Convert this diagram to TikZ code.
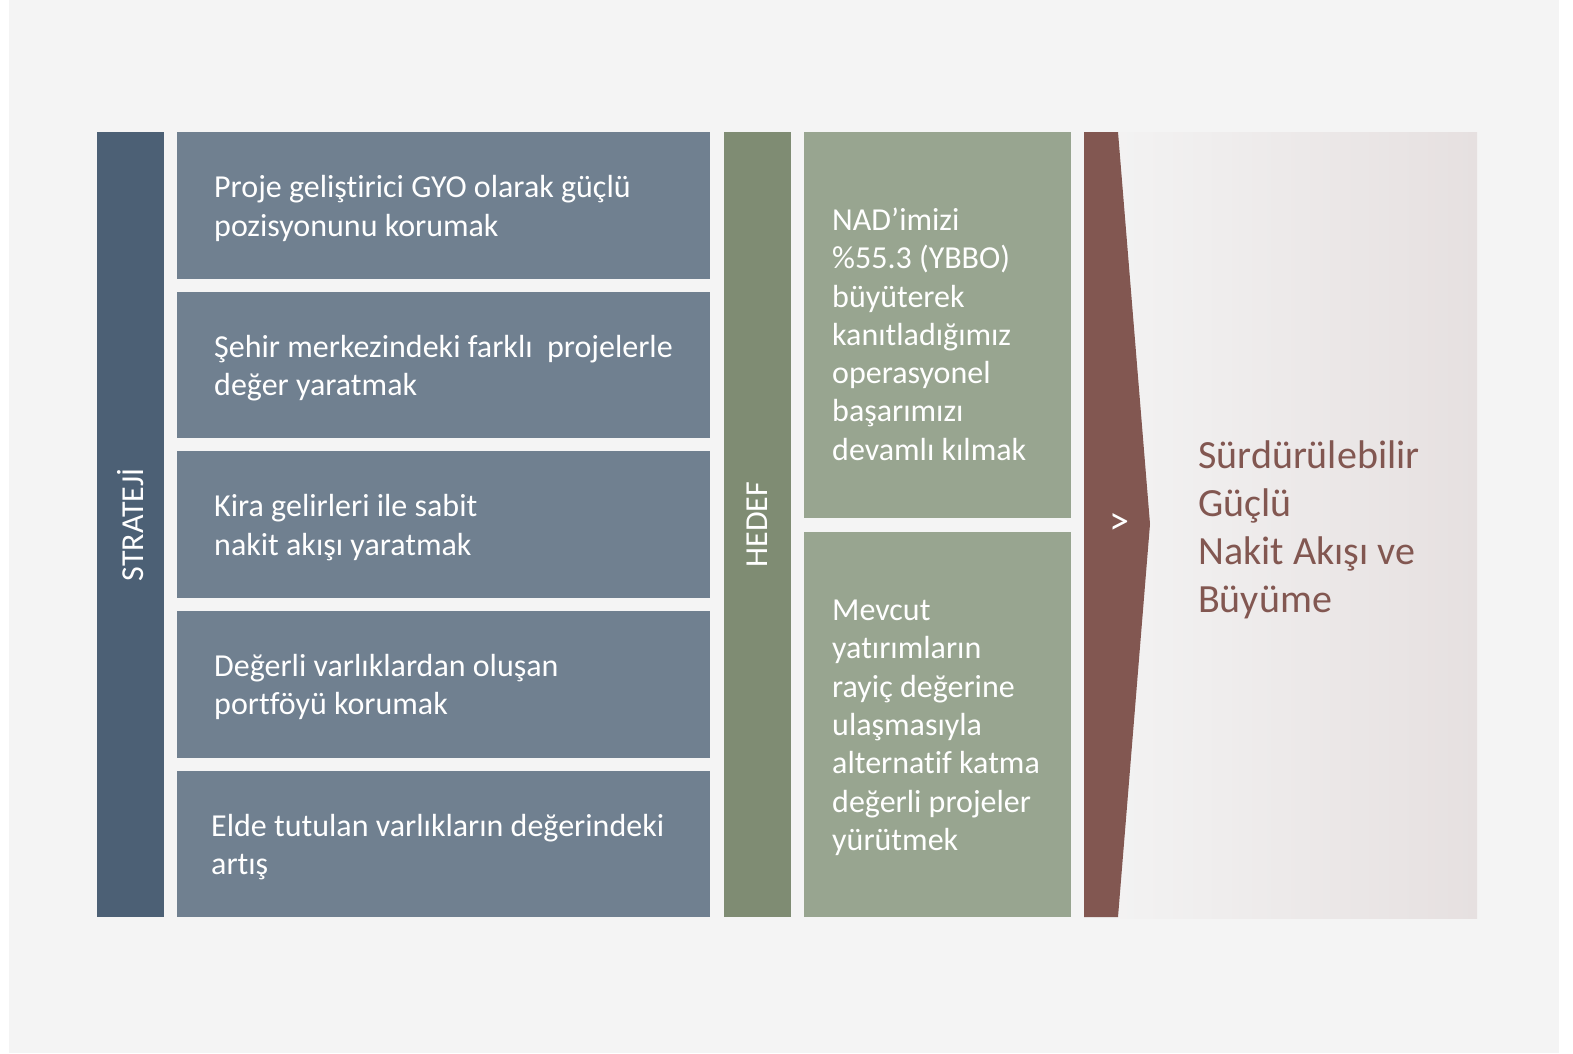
\documentclass[tikz,border=0pt]{standalone}
\usepackage{fontspec}
\setmainfont{Carlito}[Ligatures=NoCommon]
\definecolor{Mifondo}{RGB}{244,244,244}
\definecolor{Miazul}{RGB}{76,96,117}
\definecolor{Miazulclaro}{RGB}{112,128,144}
\definecolor{Miverde}{RGB}{127,140,115}
\definecolor{Miverdeclaro}{RGB}{152,165,144}
\definecolor{Mimarron}{RGB}{130,87,81}
\definecolor{Migrisizq}{RGB}{244,244,244}
\definecolor{Migrisder}{RGB}{230,224,224}

\begin{document}
\begin{tikzpicture}[x=1pt, y=-1pt,
  band/.style={
    rectangle, fill=#1, inner sep=0pt, anchor=north west,
    minimum width=67pt, minimum height=785pt
  },
  stratbox/.style={
    rectangle, fill=Miazulclaro, inner sep=0pt, anchor=north west,
    minimum width=533pt, minimum height=146.6pt
  },
  goalbox/.style={
    rectangle, fill=Miverdeclaro, inner sep=0pt, anchor=north west,
    minimum width=267pt, minimum height=#1
  },
  boxtext/.style={
    text=white, font=\fontsize{32}{38.3}\selectfont,
    align=left, inner sep=0pt, anchor=west
  },
  bandtext/.style={
    text=white, font=\fontsize{32}{36}\selectfont,
    rotate=90, inner sep=0pt
  },
  resulttext/.style={
    text=Mimarron, font=\fontsize{40}{48}\selectfont,
    align=left, inner sep=0pt, anchor=west
  }
]

%% ═══════════════════════════════════════════════
%% Fondo
%% ═══════════════════════════════════════════════
\fill[white] (0,0) rectangle (1573,1053);
\fill[Mifondo] (9,0) rectangle (1559,1053);
\useasboundingbox (0,0) rectangle (1573,1053);

%% ═══════════════════════════════════════════════
%% STRATEJİ
%% ═══════════════════════════════════════════════
\node[band=Miazul] (strateji) at (97,132) {};
\node[bandtext] at (strateji.center) {STRATEJİ};

\foreach \i in {0,...,4}
  \node[stratbox] (s\i) at (177,{132+\i*159.6}) {};

\node[boxtext] (s0t) at ([xshift=37pt,yshift=-3pt]s0.west)
  {Proje geliştirici GYO olarak güçlü\\pozisyonunu korumak};
\node[boxtext] (s1t) at ([xshift=37pt,yshift=-3pt]s1.west)
  {Şehir merkezindeki farklı\ \ projelerle\\değer yaratmak};
\node[boxtext] (s2t) at ([xshift=37pt,yshift=-3pt]s2.west)
  {Kira gelirleri ile sabit\\nakit akışı yaratmak};
\node[boxtext] (s3t) at ([xshift=37pt,yshift=-3pt]s3.west)
  {Değerli varlıklardan oluşan\\portföyü korumak};
\node[boxtext] (s4t) at ([xshift=34pt,yshift=-3pt]s4.west)
  {Elde tutulan varlıkların değerindeki\\artış};

%% ═══════════════════════════════════════════════
%% HEDEF
%% ═══════════════════════════════════════════════
\node[band=Miverde] (hedef) at (724,132) {};
\node[bandtext] at (hedef.center) {HEDEF};

\node[goalbox=386pt] (h0) at (804,132) {};
\node[goalbox=385pt] (h1) at (804,532) {};

\node[boxtext] (h0t) at ([xshift=28pt,yshift=-9pt]h0.west)
  {NAD’imizi\\\%55.3 (YBBO)\\büyüterek\\kanıtladığımız\\operasyonel\\başarımızı\\devamlı kılmak};
\node[boxtext] (h1t) at ([xshift=28pt,yshift=-3pt]h1.west)
  {Mevcut\\yatırımların\\rayiç değerine\\ulaşmasıyla\\alternatif katma\\değerli projeler\\yürütmek};

%% ═══════════════════════════════════════════════
%% Sonuç
%% ═══════════════════════════════════════════════
\shade[left color=Migrisizq, right color=Migrisder] (1084,132) rectangle (1477,918);
\fill[Mimarron] (1084,132) -- (1118,132) -- (1150,524) -- (1118,917) -- (1084,917) -- cycle;
\node[text=white, font=\fontsize{40}{44}\selectfont, inner sep=0pt] (flecha) at (1119,524) {>};

\node[resulttext] (resultado) at (1198,530)
  {Sürdürülebilir\\Güçlü\\Nakit Akışı ve\\Büyüme};

\end{tikzpicture}
\end{document}
